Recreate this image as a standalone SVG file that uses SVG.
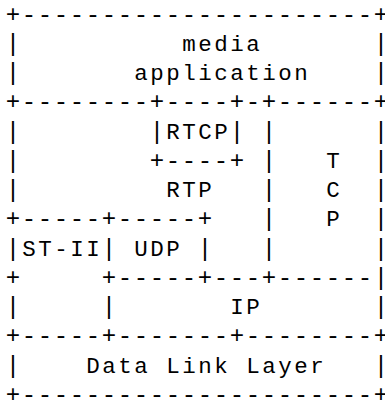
<svg xmlns="http://www.w3.org/2000/svg" width="385" height="400" viewBox="0 0 385 400">
<style>
text { font-family: "Liberation Mono", "Courier New", monospace; fill: #000; white-space: pre; }
.f { font-size: 24px; letter-spacing: 1.6px; }
.l { font-size: 22.5px; letter-spacing: 2.5px; }
</style>
<rect width="385" height="400" fill="#fff"/>
<g id="connectors" class="f">
<text x="5.8" y="21.5">+----------------------+</text>
<text x="5.8" y="50.75">|</text><text x="373.8" y="50.75">|</text>
<text x="5.8" y="80">|</text><text x="373.8" y="80">|</text>
<text x="5.8" y="109.25">+--------+----+-+------+</text>
<text x="5.8" y="138.5">|</text><text x="149.8" y="138.5">|</text><text x="229.8" y="138.5">|</text><text x="261.8" y="138.5">|</text><text x="373.8" y="138.5">|</text>
<text x="5.8" y="167.75">|</text><text x="149.8" y="167.75">+----+</text><text x="261.8" y="167.75">|</text><text x="373.8" y="167.75">|</text>
<text x="5.8" y="197">|</text><text x="261.8" y="197">|</text><text x="373.8" y="197">|</text>
<text x="5.8" y="226.25">+-----+-----+</text><text x="261.8" y="226.25">|</text><text x="373.8" y="226.25">|</text>
<text x="5.8" y="255.5">|</text><text x="101.8" y="255.5">|</text><text x="197.8" y="255.5">|</text><text x="261.8" y="255.5">|</text><text x="373.8" y="255.5">|</text>
<text x="5.8" y="284.75">+</text><text x="101.8" y="284.75">+-----+---+------|</text>
<text x="5.8" y="314">|</text><text x="101.8" y="314">|</text><text x="373.8" y="314">|</text>
<text x="5.8" y="343.25">+-----+-------+--------+</text>
<text x="5.8" y="372.5">|</text><text x="373.8" y="372.5">|</text>
<text x="5.8" y="401.75">+----------------------+</text>
</g>
<g id="media-application" class="l">
<text x="182.25" y="50.75">media</text>
<text x="134.25" y="80">application</text>
</g>
<g id="rtcp" class="l"><text x="166.25" y="138.5">RTCP</text></g>
<g id="rtp" class="l"><text x="166.25" y="197">RTP</text></g>
<g id="tcp" class="l">
<text x="326.25" y="167.75">T</text>
<text x="326.25" y="197">C</text>
<text x="326.25" y="226.25">P</text>
</g>
<g id="st-ii" class="l"><text x="22.25" y="255.5">ST-II</text></g>
<g id="udp" class="l"><text x="134.25" y="255.5">UDP</text></g>
<g id="ip" class="l"><text x="230.25" y="314">IP</text></g>
<g id="data-link-layer" class="l"><text x="86.25" y="372.5">Data Link Layer</text></g>
</svg>
